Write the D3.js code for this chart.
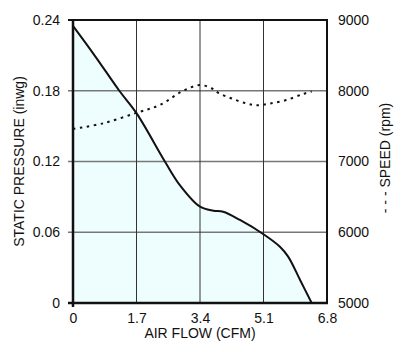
<!DOCTYPE html>
<html lang="en">
<head>
  <meta charset="UTF-8">
  <title>Fan curve</title>
  <script src="https://d3js.org/d3.v7.min.js"></script>
  <style>
    body { margin: 0; background: #fff; }
    text { font-family: "Liberation Sans", Arial, sans-serif; font-size: 14px; fill: #111; }
  </style>
</head>
<body>
<div id="chart"></div>
<script>
// values
const flowP = [0, 0.6, 1.24, 1.7, 2.46, 2.86, 3.4, 3.76, 4.02, 4.47, 5.09, 5.54, 5.76, 6.08, 6.39];
const pressure = [0.235, 0.209, 0.18, 0.161, 0.12, 0.1, 0.0817, 0.0783, 0.0774, 0.0704, 0.0585, 0.0477, 0.0393, 0.0195, 0];

const flowS = [0, 0.81, 1.71, 2.33, 2.95, 3.4, 3.71, 3.89, 4.25, 4.65, 4.92, 5.27, 5.72, 6.16, 6.39];
const speed = [7460, 7540, 7690, 7800, 8000, 8080, 8035, 7970, 7890, 7820, 7795, 7820, 7870, 7955, 7990];

const xTicks = [0, 1.7, 3.4, 5.1, 6.8];
const pTicks = [0, 0.06, 0.12, 0.18, 0.24];
const sTicks = [5000, 6000, 7000, 8000, 9000];

const W = 402, H = 352;
const mLeft = 73, mRight = 327, mTop = 20, mBottom = 303;

const svg = d3.select("#chart").append("svg")
  .attr("width", W)
  .attr("height", H);

const x = d3.scaleLinear().domain([0, 6.8]).range([mLeft, mRight]);
const yP = d3.scaleLinear().domain([0, 0.24]).range([mBottom, mTop]);
const yS = d3.scaleLinear().domain([5000, 9000]).range([mBottom, mTop]);

const pData = flowP.map((f, i) => ({f: f, v: pressure[i]}));
const sData = flowS.map((f, i) => ({f: f, v: speed[i]}));
const smooth = d3.curveCatmullRom.alpha(0.5);

// fill under pressure curve
svg.append("path")
  .datum(pData)
  .attr("fill", "#eefefe")
  .attr("d", d3.area().x(d => x(d.f)).y0(yP(0)).y1(d => yP(d.v)).curve(smooth));

// grid
svg.append("g").selectAll("line")
  .data(pTicks.slice(1, -1))
  .join("line")
  .attr("x1", mLeft - 5).attr("x2", mRight)
  .attr("y1", d => yP(d)).attr("y2", d => yP(d))
  .attr("stroke", "#777").attr("stroke-width", 1.5);

svg.append("g").selectAll("line")
  .data(xTicks.slice(1, -1))
  .join("line")
  .attr("x1", d => x(d)).attr("x2", d => x(d))
  .attr("y1", mTop).attr("y2", mBottom)
  .attr("stroke", "#333").attr("stroke-width", 1);

// frame
svg.append("line").attr("x1", mLeft - 5).attr("x2", mRight + 1).attr("y1", mTop).attr("y2", mTop)
  .attr("stroke", "#111").attr("stroke-width", 2);
svg.append("line").attr("x1", mRight).attr("x2", mRight).attr("y1", mTop).attr("y2", mBottom)
  .attr("stroke", "#111").attr("stroke-width", 2);
svg.append("line").attr("x1", mLeft - 5).attr("x2", mRight + 1).attr("y1", mBottom).attr("y2", mBottom)
  .attr("stroke", "#111").attr("stroke-width", 2.5);
svg.append("line").attr("x1", mLeft).attr("x2", mLeft).attr("y1", mTop).attr("y2", mBottom + 4)
  .attr("stroke", "#111").attr("stroke-width", 2.5);

// curves
svg.append("path")
  .datum(pData)
  .attr("fill", "none")
  .attr("stroke", "#111")
  .attr("stroke-width", 2)
  .attr("d", d3.line().x(d => x(d.f)).y(d => yP(d.v)).curve(smooth));

svg.append("path")
  .datum(sData)
  .attr("fill", "none")
  .attr("stroke", "#111")
  .attr("stroke-width", 2)
  .attr("stroke-dasharray", "2.5,4.5")
  .attr("d", d3.line().x(d => x(d.f)).y(d => yS(d.v)).curve(smooth));

// axes (labels only)
const fmt = d3.format("");
const ax = [
  svg.append("g").attr("transform", `translate(${mLeft},0)`)
    .call(d3.axisLeft(yP).tickValues(pTicks).tickSize(0).tickPadding(13).tickFormat(fmt)),
  svg.append("g").attr("transform", `translate(${mRight},0)`)
    .call(d3.axisRight(yS).tickValues(sTicks).tickSize(0).tickPadding(11).tickFormat(fmt)),
  svg.append("g").attr("transform", `translate(0,${mBottom})`)
    .call(d3.axisBottom(x).tickValues(xTicks).tickSize(0).tickPadding(10).tickFormat(fmt))
];
ax.forEach(g => {
  g.select(".domain").remove();
  g.selectAll("text").attr("font-size", 14).attr("font-family", null);
});

svg.append("text")
  .attr("x", (mLeft + mRight) / 2).attr("y", 338)
  .attr("text-anchor", "middle")
  .text("AIR FLOW (CFM)");

svg.append("text")
  .attr("transform", `translate(24,${(mTop + mBottom) / 2}) rotate(-90)`)
  .attr("text-anchor", "middle")
  .text("STATIC PRESSURE (inwg)");

svg.append("text")
  .attr("transform", `translate(390,158) rotate(-90)`)
  .attr("text-anchor", "middle")
  .text("- - - SPEED (rpm)");
</script>
</body>
</html>
